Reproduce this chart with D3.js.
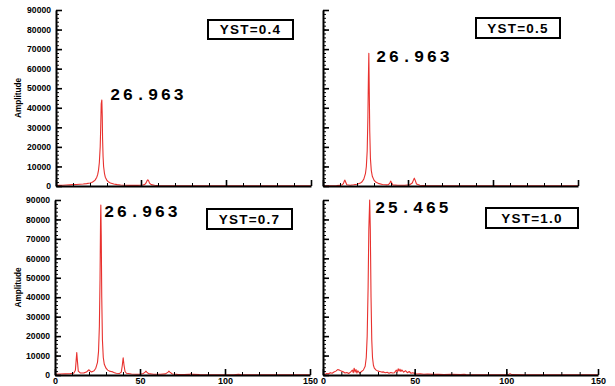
<!DOCTYPE html>
<html>
<head>
<meta charset="utf-8">
<script src="https://cdn.jsdelivr.net/npm/d3@7"></script>
<style>
  html, body { margin: 0; padding: 0; background: #fff; }
  svg { display: block; }
</style>
</head>
<body>
<svg id="chart" width="615" height="386"></svg>
<script>
// ---- Data ----
const yTickValues = [0, 10000, 20000, 30000, 40000, 50000, 60000, 70000, 80000, 90000];
const xTickValues = [0, 50, 100, 150];
const panelTitles = ["YST=0.4", "YST=0.5", "YST=0.7", "YST=1.0"];
const peakLabels = ["26.963", "26.963", "26.963", "25.465"];

// [frequency, amplitude]
const spectrumYST04 = [[0,200],[2,300],[4,400],[6,500],[8,600],[10,700],[12,800],[14,900],[16,1000],[18,1200],
  [20,1500],[21,1800],[22,2300],[23,3000],[24,4500],[24.5,5800],[25,8000],[25.5,12000],[26,20000],[26.3,30000],
  [26.6,42000],[26.963,44000],[27.2,36000],[27.4,24000],[27.7,15000],[28,10000],[28.5,6500],[29,4500],[30,2800],[31,2000],
  [32,1500],[34,1000],[36,700],[38,500],[40,400],[44,300],[48,300],[50,400],[51,500],[52,700],
  [52.5,1000],[53,1600],[53.5,2600],[54,3200],[54.5,2600],[55,1500],[56,700],[58,400],[60,200],[65,150],
  [70,100],[80,100],[90,80],[100,80],[110,60],[120,60],[130,50],[140,50],[150,50]];

const spectrumYST05 = [[0,100],[4,150],[8,200],[10,300],[11,500],[12,1200],[12.5,2500],[12.9,3000],[13.3,2000],[14,600],
  [16,400],[18,600],[20,900],[22,1500],[23,2200],[24,3500],[25,6500],[25.5,10000],[26,18000],[26.4,35000],
  [26.7,55000],[26.963,67900],[27.2,50000],[27.5,28000],[27.9,14000],[28.4,8000],[29,5000],[30,3000],[31,2000],[33,1200],
  [35,800],[37,600],[38.5,700],[39.3,1500],[39.8,2500],[40.3,1800],[41,600],[44,400],[48,400],[51,600],
  [52.5,1500],[53.2,3000],[53.7,4000],[54.2,3000],[55,1000],[57,400],[60,200],[70,100],[80,80],[100,60],
  [120,50],[150,50]];

const spectrumYST07 = [[0,400],[3,500],[6,600],[9,700],[11,900],[12,2500],[12.4,7000],[12.8,11500],[13.2,7000],[13.7,2000],
  [15,1000],[17,1100],[18.5,1500],[19.5,2300],[20,2700],[20.6,2000],[21.5,1600],[23,2200],[24,3500],[25,6500],
  [25.6,12000],[26.1,25000],[26.5,50000],[26.8,80000],[26.963,87400],[27.2,72000],[27.5,40000],[27.9,18000],[28.4,9000],[29,5500],
  [30,3500],[31,2500],[32,2000],[33,1800],[34,1600],[35,1200],[36,900],[38,800],[39,1500],[39.6,5000],
  [40.1,8900],[40.6,5000],[41.2,1800],[42,900],[45,500],[48,400],[50,400],[52,800],[53,1500],[53.5,2000],
  [54,1500],[55,700],[58,400],[62,400],[65,600],[66.5,1500],[67,2000],[67.6,1500],[69,500],[72,300],
  [76,250],[79,300],[80,600],[81,300],[85,200],[95,150],[105,150],[108,300],[110,150],[120,100],
  [135,80],[150,80]];

const spectrumYST10 = [[0,500],[1,300],[2,800],[3,600],[4,1200],[5,900],[6,1500],[7,2000],[8,2800],[9,2500],
  [10,2000],[11,1700],[12,1000],[13,1300],[14,800],[15,1500],[16,2500],[16.5,1200],[17,3500],[17.5,1500],
  [18,2800],[18.5,1000],[19,2200],[20,1000],[21,1800],[22,2500],[23,4500],[23.6,9000],[24.1,20000],[24.6,45000],
  [25,75000],[25.465,90000],[25.8,75000],[26.2,40000],[26.6,18000],[27,9000],[27.5,5000],[28,3500],[29,2500],[30,2000],
  [31,1800],[32,1500],[33,1600],[34,1200],[35,1400],[36,900],[37,1300],[38,1000],[39,1200],[40,2500],
  [40.5,1500],[41,3200],[41.5,2000],[42,3000],[42.5,1800],[43,2600],[44,1500],[45,2200],[46,1200],[47,1800],
  [48,900],[49,1200],[50,800],[51,500],[53,600],[55,400],[57,500],[60,300],[63,400],[66,250],
  [70,300],[75,200],[77,400],[78,200],[85,150],[95,150],[101,150],[102,700],[103,200],[110,100],
  [125,80],[150,60]];

const spectra = [spectrumYST04, spectrumYST05, spectrumYST07, spectrumYST10];

// ---- Layout (positions only) ----
const layout = [
  { x0: 56,  x1: 311, yTop: 10,  yBot: 186, yLabels: true,  xLabels: false, box: [208, 20, 85, 19], label: [110, 100] },
  { x0: 323, x1: 578, yTop: 10,  yBot: 186, yLabels: false, xLabels: false, box: [476, 18, 84, 20], label: [376, 62] },
  { x0: 55,  x1: 310, yTop: 200, yBot: 375, yLabels: true,  xLabels: true,  box: [207, 209, 85, 20], label: [104, 217] },
  { x0: 323, x1: 598, yTop: 200, yBot: 375, yLabels: false, xLabels: true,  box: [486, 208, 92, 20], label: [375, 213] }
];

const svg = d3.select("#chart");
const lineColor = "#e8312e";
const sans = "'Liberation Sans', Arial, sans-serif";

layout.forEach((L, i) => {
  const x = d3.scaleLinear().domain([0, 150]).range([L.x0, L.x1]);
  const y = d3.scaleLinear().domain([0, 90000]).range([L.yBot, L.yTop]);
  const g = svg.append("g");

  const clipId = "clip" + i;
  svg.append("clipPath").attr("id", clipId).append("rect")
    .attr("x", L.x0).attr("y", L.yTop - 1).attr("width", L.x1 - L.x0).attr("height", L.yBot - L.yTop + 1);

  // spectrum line
  g.append("path")
    .datum(spectra[i])
    .attr("clip-path", `url(#${clipId})`)
    .attr("fill", "none")
    .attr("stroke", lineColor)
    .attr("stroke-width", 1.1)
    .attr("stroke-linejoin", "round")
    .attr("d", d3.line().x(d => x(d[0])).y(d => y(d[1])));

  // y minor ticks (inside)
  const yMinor = d3.range(0, 90001, 2000);
  g.append("g").attr("transform", `translate(${L.x0},0)`)
    .call(d3.axisRight(y).tickValues(yMinor).tickSize(3).tickFormat(""))
    .call(s => s.select(".domain").remove())
    .selectAll("line").attr("stroke", "#000").attr("stroke-width", 1);
  // y major ticks + axis line
  g.append("g").attr("transform", `translate(${L.x0},0)`)
    .call(d3.axisRight(y).tickValues(yTickValues).tickSize(6).tickSizeOuter(0).tickFormat(""))
    .call(s => s.select(".domain").attr("stroke", "#000").attr("stroke-width", 2))
    .selectAll("line").attr("stroke", "#000").attr("stroke-width", 1.6);

  // x minor ticks (inside, pointing up)
  const xMinor = d3.range(0, 151, 10);
  g.append("g").attr("transform", `translate(0,${L.yBot})`)
    .call(d3.axisTop(x).tickValues(xMinor).tickSize(3).tickFormat(""))
    .call(s => s.select(".domain").remove())
    .selectAll("line").attr("stroke", "#000").attr("stroke-width", 1);
  g.append("g").attr("transform", `translate(0,${L.yBot})`)
    .call(d3.axisTop(x).tickValues(xTickValues).tickSize(6).tickSizeOuter(0).tickFormat(""))
    .call(s => s.select(".domain").attr("stroke", "#000").attr("stroke-width", 2))
    .selectAll("line").attr("stroke", "#000").attr("stroke-width", 1.6);

  if (L.yLabels) {
    g.append("g").attr("transform", `translate(${L.x0},0)`)
      .call(d3.axisLeft(y).tickValues(yTickValues).tickSize(0).tickPadding(5).tickFormat(d3.format("d")))
      .call(s => s.select(".domain").remove())
      .selectAll("text")
      .attr("font-family", sans).attr("font-weight", "bold").attr("font-size", 8.6).attr("fill", "#000");
    g.append("text")
      .attr("transform", `translate(21,${(L.yTop + L.yBot) / 2}) rotate(-90)`)
      .attr("text-anchor", "middle")
      .attr("font-family", sans).attr("font-weight", "bold").attr("font-size", 8.2)
      .text("Amplitude");
  }
  if (L.xLabels) {
    g.append("g").attr("transform", `translate(0,${L.yBot})`)
      .call(d3.axisBottom(x).tickValues(xTickValues).tickSize(0).tickPadding(3).tickFormat(d3.format("d")))
      .call(s => s.select(".domain").remove())
      .selectAll("text")
      .attr("font-family", sans).attr("font-weight", "bold").attr("font-size", 9).attr("fill", "#000");
  }

  // peak label
  g.append("text")
    .attr("x", L.label[0]).attr("y", L.label[1])
    .attr("font-family", "'Liberation Mono', 'Courier New', monospace")
    .attr("font-weight", "bold").attr("font-size", 17)
    .attr("letter-spacing", 2.5)
    .text(peakLabels[i]);

  // title box
  const [bx, by, bw, bh] = L.box;
  g.append("rect").attr("x", bx).attr("y", by).attr("width", bw).attr("height", bh)
    .attr("fill", "#fff").attr("stroke", "#000").attr("stroke-width", 2);
  g.append("text")
    .attr("x", bx + bw / 2).attr("y", by + bh / 2)
    .attr("dy", "0.36em")
    .attr("text-anchor", "middle")
    .attr("font-family", sans).attr("font-weight", "bold").attr("font-size", 13.5)
    .attr("letter-spacing", 1.2)
    .text(panelTitles[i]);
});
</script>
</body>
</html>
